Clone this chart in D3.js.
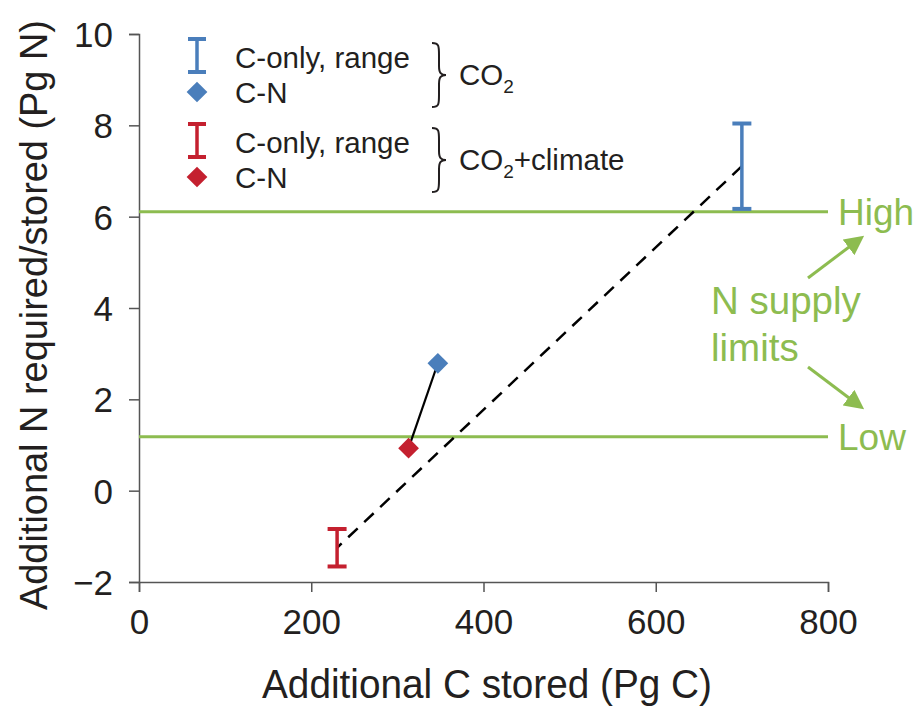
<!DOCTYPE html>
<html>
<head>
<meta charset="UTF-8" />
<title>N required vs C stored</title>
<script src="https://d3js.org/d3.v7.min.js"></script>
<style>
  body { margin: 0; background: #fff; }
  text { font-family: "Liberation Sans", Arial, sans-serif; fill: #231f20; }
</style>
</head>
<body>
<script>
// data
var xTicks = [0, 200, 400, 600, 800];
var yTicks = [-2, 0, 2, 4, 6, 8, 10];
var scenarios = ["CO2", "CO2+climate"];
var scenColors = ["#4a7ebb", "#c4202f"];
var rangeX = [700, 230];        // C-only, range (x position)
var rangeLow = [6.17, -1.66];
var rangeHigh = [8.04, -0.84];
var cnX = [347, 313];           // C-N points
var cnY = [2.79, 0.93];
var limitY = [6.11, 1.18];
var limitLabels = ["High", "Low"];

var width = 916, height = 708;
var green = "#8dbc50";

var svg = d3.select("body").append("svg")
    .attr("width", width)
    .attr("height", height);

var x = d3.scaleLinear().domain([0, 800]).range([139, 828]);
var y = d3.scaleLinear().domain([-2, 10]).range([582, 34]);

// axes
var xAxis = svg.append("g")
    .attr("transform", "translate(0," + y(-2) + ")")
    .call(d3.axisBottom(x).tickValues(xTicks).tickSize(10).tickPadding(17));
xAxis.selectAll("text").style("font-size", "35px").attr("fill", "#231f20");

var yAxis = svg.append("g")
    .attr("transform", "translate(" + x(0) + ",0)")
    .call(d3.axisLeft(y).tickValues(yTicks).tickSize(10).tickPadding(16)
        .tickFormat(function(d) { return d < 0 ? "\u2212" + Math.abs(d) : d; }));
yAxis.selectAll("text").style("font-size", "35px").attr("fill", "#231f20").attr("dy", "0.36em");

[xAxis, yAxis].forEach(function(a) {
    a.select(".domain").attr("stroke", "#555").attr("stroke-width", 1.5);
    a.selectAll(".tick line").attr("stroke", "#555").attr("stroke-width", 1.5);
});

// axis titles
svg.append("text")
    .attr("x", 487).attr("y", 698)
    .attr("text-anchor", "middle")
    .attr("textLength", 450)
    .attr("lengthAdjust", "spacingAndGlyphs")
    .style("font-size", "40px")
    .text("Additional C stored (Pg C)");

svg.append("text")
    .attr("transform", "translate(47,315) rotate(-90)")
    .attr("text-anchor", "middle")
    .attr("textLength", 590)
    .attr("lengthAdjust", "spacingAndGlyphs")
    .style("font-size", "38px")
    .text("Additional N required/stored (Pg N)");

// N supply limit lines
svg.selectAll(".limit")
    .data(limitY)
    .enter().append("line")
    .attr("class", "limit")
    .attr("x1", x(0)).attr("x2", x(800))
    .attr("y1", function(d) { return y(d); })
    .attr("y2", function(d) { return y(d); })
    .attr("stroke", green).attr("stroke-width", 3);

svg.selectAll(".limitLabel")
    .data(limitY)
    .enter().append("text")
    .attr("x", 838)
    .attr("y", function(d) { return y(d); })
    .attr("dy", "0.36em")
    .style("font-size", "37px")
    .style("fill", green)
    .text(function(d, i) { return limitLabels[i]; });

svg.append("text")
    .attr("x", 711).attr("y", 314)
    .style("font-size", "38.5px").style("fill", green)
    .text("N supply");
svg.append("text")
    .attr("x", 711).attr("y", 361)
    .style("font-size", "38.5px").style("fill", green)
    .text("limits");

svg.append("defs").append("marker")
    .attr("id", "arrow")
    .attr("viewBox", "0 0 10 10")
    .attr("refX", 8).attr("refY", 5)
    .attr("markerWidth", 6.5).attr("markerHeight", 6.5)
    .attr("orient", "auto")
    .append("path")
    .attr("d", "M0,0 L10,5 L0,10 z")
    .attr("fill", green);

svg.append("line")
    .attr("x1", 808).attr("y1", 278).attr("x2", 861).attr("y2", 238)
    .attr("stroke", green).attr("stroke-width", 3).attr("marker-end", "url(#arrow)");
svg.append("line")
    .attr("x1", 808).attr("y1", 367).attr("x2", 861).attr("y2", 407)
    .attr("stroke", green).attr("stroke-width", 3).attr("marker-end", "url(#arrow)");

// dashed line joining the middle of the C-only ranges
var mids = rangeX.map(function(d, i) { return [d, (rangeLow[i] + rangeHigh[i]) / 2]; });
svg.append("path")
    .datum(mids)
    .attr("d", d3.line().x(function(d) { return x(d[0]); }).y(function(d) { return y(d[1]); }))
    .attr("fill", "none")
    .attr("stroke", "#000")
    .attr("stroke-width", 2.5)
    .attr("stroke-dasharray", "13,9");

// solid line joining the C-N points
svg.append("path")
    .datum(cnX.map(function(d, i) { return [d, cnY[i]]; }))
    .attr("d", d3.line().x(function(d) { return x(d[0]); }).y(function(d) { return y(d[1]); }))
    .attr("fill", "none")
    .attr("stroke", "#000")
    .attr("stroke-width", 2.2);

// range bars
function rangeBar(g, cx, y1, y2, col, cap) {
    g.append("line").attr("x1", cx).attr("x2", cx).attr("y1", y1).attr("y2", y2)
        .attr("stroke", col).attr("stroke-width", 3.5);
    [y1, y2].forEach(function(yy) {
        g.append("line").attr("x1", cx - cap / 2).attr("x2", cx + cap / 2)
            .attr("y1", yy).attr("y2", yy)
            .attr("stroke", col).attr("stroke-width", 4);
    });
}
scenarios.forEach(function(s, i) {
    rangeBar(svg, x(rangeX[i]), y(rangeHigh[i]), y(rangeLow[i]), scenColors[i], 19);
});

var diamond = d3.symbol().type(d3.symbolSquare).size(215);
svg.selectAll(".cn")
    .data(cnX)
    .enter().append("path")
    .attr("class", "cn")
    .attr("d", diamond)
    .attr("transform", function(d, i) { return "translate(" + x(d) + "," + y(cnY[i]) + ") rotate(45)"; })
    .attr("fill", function(d, i) { return scenColors[i]; });

// legend
var legTop = [39, 124];
scenarios.forEach(function(s, i) {
    var t = legTop[i];
    rangeBar(svg, 197, t, t + 33, scenColors[i], 18);
    svg.append("path")
        .attr("d", diamond)
        .attr("transform", "translate(197," + (t + 53) + ") rotate(45)")
        .attr("fill", scenColors[i]);
    svg.append("text").attr("x", 235).attr("y", t + 29)
        .style("font-size", "29.5px").text("C-only, range");
    svg.append("text").attr("x", 235).attr("y", t + 64)
        .style("font-size", "29.5px").text("C-N");

    // curly brace
    var bx = 432, b0 = t + 4, b1 = t + 68, bm = (b0 + b1) / 2;
    svg.append("path")
        .attr("d", "M" + bx + "," + b0 +
            " C" + (bx + 7) + "," + b0 + " " + (bx + 7) + "," + (b0 + 3) + " " + (bx + 7) + "," + (b0 + 12) +
            " L" + (bx + 7) + "," + (bm - 9) +
            " C" + (bx + 7) + "," + (bm - 2) + " " + (bx + 9) + "," + bm + " " + (bx + 14) + "," + bm +
            " C" + (bx + 9) + "," + bm + " " + (bx + 7) + "," + (bm + 2) + " " + (bx + 7) + "," + (bm + 9) +
            " L" + (bx + 7) + "," + (b1 - 12) +
            " C" + (bx + 7) + "," + (b1 - 3) + " " + (bx + 7) + "," + b1 + " " + bx + "," + b1)
        .attr("fill", "none").attr("stroke", "#231f20").attr("stroke-width", 2);

    var lab = svg.append("text").attr("x", 459).attr("y", bm + 10).style("font-size", "29.5px");
    lab.append("tspan").text("CO");
    lab.append("tspan").attr("dy", 8).style("font-size", "19px").text("2");
    if (s !== "CO2") {
        lab.append("tspan").attr("dy", -8).text(s.slice(3));
    }
});
</script>
</body>
</html>
